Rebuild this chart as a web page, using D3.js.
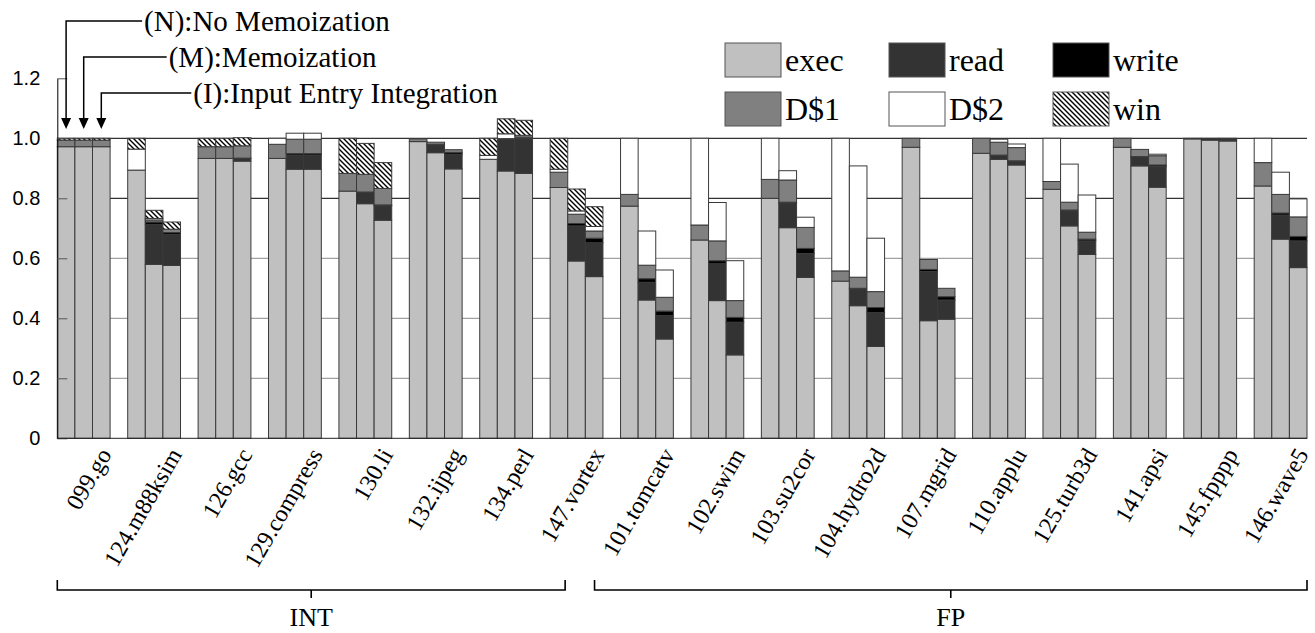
<!DOCTYPE html>
<html>
<head>
<meta charset="utf-8">
<script src="https://cdn.jsdelivr.net/npm/d3@7"></script>
<style>
	body { margin: 0; background: #fff; }
</style>
</head>
<body>
<div id="chart"></div>
<script>
const benchmarks = [
	"099.go", "124.m88ksim", "126.gcc", "129.compress", "130.li", "132.ijpeg", "134.perl", "147.vortex",
	"101.tomcatv", "102.swim", "103.su2cor", "104.hydro2d", "107.mgrid", "110.applu", "125.turb3d",
	"141.apsi", "145.fpppp", "146.wave5"
];
const suites = [["INT", "099.go", "147.vortex"], ["FP", "101.tomcatv", "146.wave5"]];
const configs = ["N", "M", "I"];
const configNames = ["(N):No Memoization", "(M):Memoization", "(I):Input Entry Integration"];
const components = ["exec", "read", "write", "D$1", "D$2", "win"];
const yTicks = [0, 0.2, 0.4, 0.6, 0.8, 1.0, 1.2];

// one triple [N, M, I] per benchmark
const exec = [
	[.972, .972, .972], [.894, .58, .576], [.933, .933, .924], [.933, .897, .897], [.824, .782, .727],
	[.989, .952, .898], [.93, .891, .883], [.836, .591, .539], [.774, .461, .331], [.661, .459, .278],
	[.8, .702, .536], [.524, .442, .306], [.97, .392, .397], [.95, .93, .911], [.83, .708, .613],
	[.97, .908, .837], [.998, .994, .991], [.841, .664, .569]
];
const read = [
	[0, 0, 0], [0, .133, .104], [0, 0, .008], [0, .047, .047], [0, .037, .048],
	[0, .026, .049], [0, .105, .115], [0, .117, .113], [0, .059, .078], [0, .123, .109],
	[0, .081, .08], [0, .056, .113], [0, .164, .064], [0, .012, .011], [0, .05, .045],
	[0, .029, .069], [0, .003, .004], [0, .08, .089]
];
const write = [
	[0, 0, 0], [0, .008, .006], [0, 0, .002], [0, .005, .005], [0, .002, .003],
	[0, .002, .006], [0, .003, .003], [0, .008, .015], [0, .012, .015], [0, .01, .016],
	[0, .004, .017], [0, .002, .017], [0, .007, .011], [0, .002, .003], [0, .003, .006],
	[0, .002, .005], [0, .002, .003], [0, .007, .015]
];
const d1 = [
	[.022, .022, .022], [0, .007, .011], [.039, .039, .041], [.047, .048, .048], [.059, .059, .055],
	[.009, .007, .009], [0, 0, .004], [.051, .031, .024], [.039, .045, .046], [.05, .066, .056],
	[.063, .074, .07], [.034, .037, .053], [.03, .033, .028], [.05, .043, .044], [.026, .026, .023],
	[.03, .024, .031], [.002, .001, .002], [.078, .062, .065]
];
const d2 = [
	[0, 0, 0], [.07, .005, 0], [0, 0, 0], [.02, .02, .02], [0, 0, 0],
	[0, 0, 0], [.013, .016, .005], [.01, .011, .015], [.187, .114, .091], [.289, .128, .133],
	[.137, .031, .034], [.442, .371, .178], [0, 0, 0], [0, .01, .012], [.144, .127, .124],
	[0, 0, .005], [0, 0, 0], [.081, .074, .06]
];
const win = [
	[.006, .006, .006], [.036, .027, .024], [.028, .028, .027], [0, 0, 0], [.117, .103, .086],
	[0, 0, 0], [.057, .05, .05], [.103, .073, .066], [0, 0, 0], [0, 0, 0],
	[0, 0, 0], [0, 0, 0], [0, 0, 0], [0, 0, 0], [0, 0, 0],
	[0, 0, 0], [0, 0, 0], [0, 0, 0]
];
const series = [exec, read, write, d1, d2, win];

const fills = {"exec": "#c0c0c0", "read": "#333333", "write": "#000000", "D$1": "#808080", "D$2": "#ffffff", "win": "url(#hatch)"};
const serif = "'Liberation Serif', 'Times New Roman', serif";
const sans = "'Liberation Sans', Arial, sans-serif";

const width = 1315, height = 633;

const rows = [];
benchmarks.forEach((b, i) => configs.forEach((c, j) => {
	const row = {bench: b, cfg: c};
	components.forEach((k, s) => row[k] = series[s][i][j]);
	rows.push(row);
}));

const x = d3.scaleBand().domain(benchmarks).range([57.3, 1307]).paddingInner(0.25).paddingOuter(0);
const xs = d3.scaleBand().domain(configs).range([0, x.bandwidth()]);
const y = d3.scaleLinear().domain([0, 1.2]).range([438.3, 78.3]);

const svg = d3.select("#chart")
	.append("svg")
	.attr("width", width)
	.attr("height", height)
	.attr("viewBox", [0, 0, width, height]);

svg.append("defs")
	.append("pattern")
	.attr("id", "hatch")
	.attr("patternUnits", "userSpaceOnUse")
	.attr("width", 5)
	.attr("height", 5)
	.call(p => p.append("rect").attr("width", 5).attr("height", 5).attr("fill", "#fff"))
	.append("path")
	.attr("d", "M0,0L5,5M-1,4L1,6M4,-1L6,1")
	.attr("stroke", "#000")
	.attr("stroke-width", 1.4);

// grid
svg.append("g")
	.selectAll("line")
	.data(yTicks.filter(d => d > 0 && d < 1.1))
	.join("line")
	.attr("x1", x.range()[0])
	.attr("x2", x.range()[1])
	.attr("y1", d => y(d))
	.attr("y2", d => y(d))
	.attr("stroke", d => d >= 0.8 ? "#000" : "#8a8a8a")
	.attr("stroke-width", 1);

const stacked = d3.stack().keys(components)(rows);

svg.append("g")
	.selectAll("g")
	.data(stacked)
	.join("g")
	.attr("fill", d => fills[d.key])
	.selectAll("rect")
	.data(d => d.filter(p => p[1] - p[0] > 0))
	.join("rect")
	.attr("x", d => x(d.data.bench) + xs(d.data.cfg))
	.attr("width", xs.bandwidth())
	.attr("y", d => y(d[1]))
	.attr("height", d => y(d[0]) - y(d[1]))
	.attr("stroke", "#3a3a3a")
	.attr("stroke-width", 1);

// axes
svg.append("g")
	.attr("transform", `translate(${x.range()[0]},0)`)
	.call(d3.axisLeft(y)
		.tickValues(yTicks)
		.tickSize(-10)
		.tickSizeOuter(0)
		.tickPadding(17)
		.tickFormat(d => d === 0 ? "0" : d3.format(".1f")(d)))
	.call(g => g.selectAll(".tick line").attr("stroke", "#555"))
	.call(g => g.selectAll(".tick text").attr("font-family", sans).attr("font-size", 20).attr("fill", "#000"))
	.call(g => g.select(".domain").attr("stroke", "#000"));

svg.append("line")
	.attr("x1", x.range()[0])
	.attr("x2", x.range()[1])
	.attr("y1", y(0))
	.attr("y2", y(0))
	.attr("stroke", "#222");

svg.append("g")
	.selectAll("text")
	.data(benchmarks)
	.join("text")
	.attr("transform", d => `translate(${x(d) + x.bandwidth() / 2 + 14},446) rotate(-60)`)
	.attr("text-anchor", "end")
	.attr("dy", "0.7em")
	.attr("font-family", serif)
	.attr("font-size", 24)
	.text(d => d);

// INT / FP braces
const brace = svg.append("g");
suites.forEach(([name, a, b]) => {
	const x1 = x(a) + (name === "INT" ? 0 : -26);
	const x2 = x(b) + (name === "INT" ? 15 : x.bandwidth());
	const cx = (x1 + x2) / 2;
	brace.append("path")
		.attr("d", `M${x1},580V590H${x2}V580M${cx},590V598`)
		.attr("fill", "none")
		.attr("stroke", "#000")
		.attr("stroke-width", 1.6);
	brace.append("text")
		.attr("x", cx)
		.attr("y", 626)
		.attr("text-anchor", "middle")
		.attr("font-family", serif)
		.attr("font-size", 26)
		.text(name);
});

// N / M / I callouts
const notes = svg.append("g");
configs.forEach((c, j) => {
	const cx = x(benchmarks[0]) + xs(c) + xs.bandwidth() / 2;
	const ly = 21 + j * 36;
	notes.append("path")
		.attr("d", `M${cx},120V${ly}H${cx + 76 + j * 7}`)
		.attr("fill", "none")
		.attr("stroke", "#000")
		.attr("stroke-width", 1.5);
	notes.append("path")
		.attr("d", `M${cx - 5},118L${cx + 5},118L${cx},129Z`)
		.attr("fill", "#000");
	notes.append("text")
		.attr("x", cx + 78 + j * 7)
		.attr("y", ly)
		.attr("dy", "0.33em")
		.attr("font-family", serif)
		.attr("font-size", 29)
		.text(configNames[j]);
});

// legend
const legend = svg.append("g");
components.forEach((k, i) => {
	const col = [0, 1, 2, 0, 1, 2][i], row = [0, 0, 0, 1, 1, 1][i];
	const lx = 725 + col * 164, ly = 43 + row * 49;
	legend.append("rect")
		.attr("x", lx)
		.attr("y", ly)
		.attr("width", 56)
		.attr("height", 34)
		.attr("fill", fills[k])
		.attr("stroke", "#555");
	legend.append("text")
		.attr("x", lx + 60)
		.attr("y", ly + 17)
		.attr("dy", "0.35em")
		.attr("font-family", serif)
		.attr("font-size", 32)
		.text(k);
});
</script>
</body>
</html>
